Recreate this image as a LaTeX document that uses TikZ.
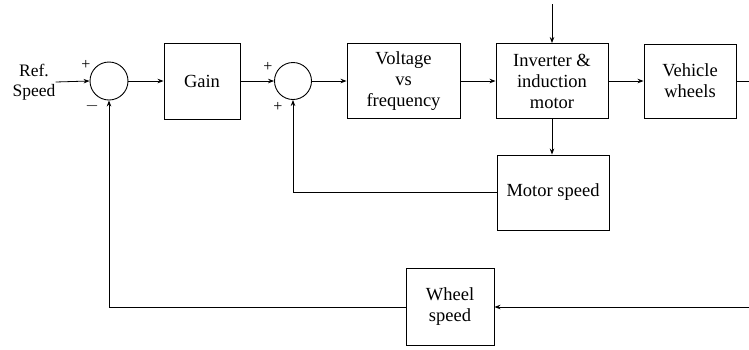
\documentclass[tikz,border=0pt]{standalone}
\usepackage{fontspec}
\setmainfont{Liberation Serif}
\usetikzlibrary{arrows.meta}
\begin{document}
\begin{tikzpicture}[x=1pt,y=-1pt,
  every node/.style={font=\fontsize{18.5}{21}\selectfont, inner sep=0pt},
  blk/.style={draw, line width=0.9pt, align=center},
  sumj/.style={draw, circle, line width=0.9pt},
  sig/.style={font=\fontsize{16}{16}\selectfont},
  conn/.style={line width=0.8pt, -{Stealth[length=6pt,width=4.5pt]}},
  plain/.style={line width=0.8pt}]
\useasboundingbox (0,0) rectangle (749,349);
% nodes
\node (ref) [align=center, font=\fontsize{17.5}{20}\selectfont] at (34,82) {Ref.\\Speed};
\node[sumj, minimum size=38pt] (s1) at (109,81) {};
\node[blk, minimum width=76pt, minimum height=76pt] (gain) at (202,81) {Gain};
\node[sumj, minimum size=37pt] (s2) at (293,81) {};
\node[blk, minimum width=113pt, minimum height=75pt] (vvf) at (403.5,81) {Voltage\\vs\\frequency};
\node[blk, minimum width=112pt, minimum height=75pt] (inv) at (552,81) {Inverter \&\\induction\\motor};
\node[blk, minimum width=92pt, minimum height=74pt] (veh) at (690,81) {Vehicle\\wheels};
\node[blk, minimum width=112pt, minimum height=75pt] (mot) at (553,192.5) {Motor speed};
\node[blk, minimum width=88pt, minimum height=77pt] (whl) at (450,307) {Wheel\\speed};
% signs
\node[sig] (p1) at (86,65) {+};
\node[sig] (m1) at (92,106) {$-$};
\node[sig] (p2) at (268,67) {+};
\node[sig] (p3) at (278,107) {+};
% free ends
\coordinate (topin) at (552,4);
\coordinate (outR) at (749,81);
\coordinate (inR) at (749,307);
% connectors
\draw[conn] (ref.east) -- (s1.west);
\draw[conn] (s1.east) -- (gain.west);
\draw[conn] (gain.east) -- (s2.west);
\draw[conn] (s2.east) -- (vvf.west);
\draw[conn] (vvf.east) -- (inv.west);
\draw[conn] (inv.east) -- (veh.west);
\draw[conn] (topin) -- (inv.north);
\draw[conn] (inv.south) -- (inv.south |- mot.north);
\draw[plain] (veh.east) -- (outR);
\draw[conn] (mot.west) -| (s2.south);
\draw[conn] (inR) -- (whl.east);
\draw[conn] (whl.west) -| (s1.south);
\end{tikzpicture}
\end{document}
